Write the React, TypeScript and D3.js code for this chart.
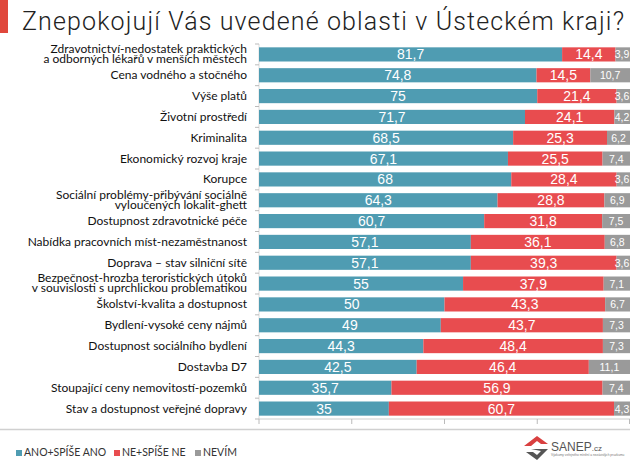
import React from "react";
import * as d3 from "d3";

const categories: string[][] = [
  ["Zdravotnictví-nedostatek praktických", "a odborných lékařů v menších městech"],
  ["Cena vodného a stočného"],
  ["Výše platů"],
  ["Životní prostředí"],
  ["Kriminalita"],
  ["Ekonomický rozvoj kraje"],
  ["Korupce"],
  ["Sociální problémy-přibývání sociálně", "vyloučených lokalit-ghett"],
  ["Dostupnost zdravotnické péče"],
  ["Nabídka pracovních míst-nezaměstnanost"],
  ["Doprava – stav silniční sítě"],
  ["Bezpečnost-hrozba teroristických útoků", "v souvislosti s uprchlickou problematikou"],
  ["Školství-kvalita a dostupnost"],
  ["Bydlení-vysoké ceny nájmů"],
  ["Dostupnost sociálního bydlení"],
  ["Dostavba D7"],
  ["Stoupající ceny nemovitostí-pozemků"],
  ["Stav a dostupnost veřejné dopravy"],
];

const yesValues = [81.7, 74.8, 75, 71.7, 68.5, 67.1, 68, 64.3, 60.7, 57.1, 57.1, 55, 50, 49, 44.3, 42.5, 35.7, 35];
const noValues = [14.4, 14.5, 21.4, 24.1, 25.3, 25.5, 28.4, 28.8, 31.8, 36.1, 39.3, 37.9, 43.3, 43.7, 48.4, 46.4, 56.9, 60.7];
const dkValues = [3.9, 10.7, 3.6, 4.2, 6.2, 7.4, 3.6, 6.9, 7.5, 6.8, 3.6, 7.1, 6.7, 7.3, 7.3, 11.1, 7.4, 4.3];

const seriesNames = ["ANO+SPÍŠE ANO", "NE+SPÍŠE NE", "NEVÍM"];
const seriesColors = ["#4f9cb2", "#e84c4f", "#9a9a9a"];
const xTicks = [0, 25, 50, 75, 100];
const title = "Znepokojují Vás uvedené oblasti v Ústeckém kraji?";

const W = 630;
const H = 461;

const fmt = (v: number) => String(v).replace(".", ",");

export default function App() {
  const x = d3.scaleLinear().domain([0, 100]).range([259, 630]);
  const y = d3
    .scaleBand<number>()
    .domain(d3.range(categories.length))
    .range([44, 419])
    .paddingInner(0.32)
    .paddingOuter(0.16);
  const step = y.step();
  const rows = categories.map((c, i) => ({
    label: c,
    vals: [yesValues[i], noValues[i], dkValues[i]],
  }));
  const axisY = 419;
  const labelFont = "Lato, 'Liberation Sans', sans-serif";

  return (
    <svg
      width={W}
      height={H}
      style={{ position: "absolute", left: 0, top: 0, display: "block", background: "#fff" }}
    >
      <rect x={0} y={0} width={W} height={H} fill="#fff" />
      {/* title */}
      <rect x={0} y={0} width={8} height={33} fill="#e0473c" />
      <text
        x={22}
        y={30}
        fontFamily="Roboto, sans-serif"
        fontWeight={300}
        fontSize={25}
        fill="#222"
        textLength={602}
        lengthAdjust="spacing"
      >
        {title}
      </text>

      {/* left axis ticks at band boundaries */}
      <line x1={259} x2={259} y1={44} y2={axisY} stroke="#ddd" strokeWidth={1} />
      {d3.range(categories.length + 1).map((k) => {
        const yy = 44 + k * step;
        return <line key={"lt" + k} x1={255} x2={259} y1={yy} y2={yy} stroke="#bbb" />;
      })}

      {rows.map((r, i) => {
        const y0 = y(i)!;
        const bh = y.bandwidth();
        const cy = y0 + bh / 2;
        let acc = 0;
        return (
          <g key={i}>
            {r.vals.map((v, j) => {
              const x0 = x(acc);
              acc += v;
              const x1 = Math.min(x(acc), 630);
              const big = j < 2;
              return (
                <g key={j}>
                  <rect x={x0} y={y0} width={Math.max(0, x1 - x0)} height={bh} fill={seriesColors[j]} />
                  <text
                    x={j === 2 ? Math.min((x0 + x1) / 2, 630 - 8) : (x0 + x1) / 2}
                    y={cy + (big ? 5 : 4)}
                    textAnchor="middle"
                    fontFamily="'Liberation Sans', Arial, sans-serif"
                    fontSize={big ? 14 : 10.5}
                    fill="#fff"
                  >
                    {fmt(v)}
                  </text>
                </g>
              );
            })}
            {r.label.length === 1 ? (
              <text x={247} y={cy + 4} textAnchor="end" fontFamily={labelFont} fontSize={12} fill="#111">
                {r.label[0]}
              </text>
            ) : (
              <text textAnchor="end" fontFamily={labelFont} fontSize={12} fill="#111">
                <tspan x={247} y={cy - 1.5}>{r.label[0]}</tspan>
                <tspan x={247} y={cy + 8.5}>{r.label[1]}</tspan>
              </text>
            )}
          </g>
        );
      })}

      {/* bottom axis */}
      <line x1={259} x2={630} y1={axisY} y2={axisY} stroke="#ccc" />
      {xTicks.map((t) => (
        <line key={t} x1={Math.min(x(t), 629.5)} x2={Math.min(x(t), 629.5)} y1={axisY} y2={axisY + 5} stroke="#bbb" />
      ))}

      {/* separator */}
      <line x1={0} x2={630} y1={429.5} y2={429.5} stroke="#d0d0d0" strokeWidth={1.5} />

      {/* legend */}
      {(() => {
        const pos = [16, 114, 195];
        return seriesNames.map((n, i) => (
          <g key={n}>
            <rect x={pos[i]} y={450} width={6} height={6} fill={seriesColors[i]} />
            <text x={pos[i] + 8} y={456} fontFamily={labelFont} fontSize={10.5} fill="#333">
              {n}
            </text>
          </g>
        ));
      })()}

      {/* logo */}
      <g>
        <path d="M524 446 L537 436 L548 444 L541 444 L537 441 L531 446 Z" fill="#d94040" />
        <path d="M531 449 L548 449 L537 460 L526 452 L533 452 L537 455 L541 451 Z" fill="#555" />
        <text x={551} y={451} fontFamily="'Liberation Sans', Arial, sans-serif" fontSize={12} fill="#555">
          SANEP<tspan fontSize={8}>.cz</tspan>
        </text>
        <text x={551} y={456} fontFamily="'Liberation Sans', Arial, sans-serif" fontSize={3.2} fill="#777">
          Výzkumy veřejného mínění a nezávislých průzkumů
        </text>
      </g>
    </svg>
  );
}
